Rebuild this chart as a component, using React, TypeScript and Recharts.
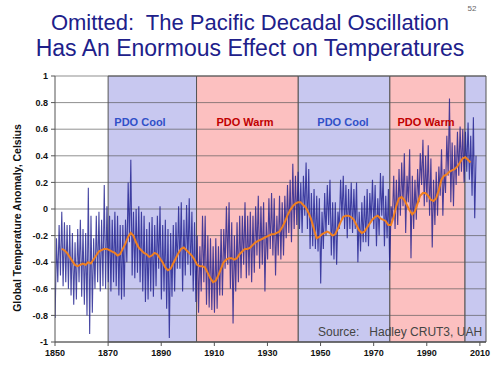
import React from 'react';
import { ComposedChart, Line, XAxis, YAxis, ReferenceArea, ReferenceLine } from 'recharts';

// Envelope of the monthly anomaly (HadCRUT3 / UAH), per year, 1850..2008
const FIRST_YEAR = 1850;
const monthlyLow = [
  -0.82, -0.55, -0.50, -0.58, -0.55, -0.60, -0.65, -0.72, -0.68, -0.55,
  -0.66, -0.72, -0.80, -0.94, -0.78, -0.60, -0.55, -0.62, -0.58, -0.60,
  -0.55, -0.62, -0.55, -0.58, -0.65, -0.68, -0.66, -0.40, -0.25, -0.50,
  -0.52, -0.48, -0.55, -0.62, -0.70, -0.68, -0.62, -0.66, -0.58, -0.45,
  -0.68, -0.62, -0.75, -0.97, -0.66, -0.62, -0.45, -0.45, -0.62, -0.50,
  -0.42, -0.50, -0.62, -0.70, -0.78, -0.62, -0.55, -0.72, -0.74, -0.76,
  -0.78, -0.75, -0.65, -0.65, -0.45, -0.42, -0.60, -0.86, -0.62, -0.55,
  -0.52, -0.42, -0.52, -0.50, -0.55, -0.48, -0.35, -0.45, -0.42, -0.62,
  -0.38, -0.30, -0.35, -0.50, -0.35, -0.38, -0.35, -0.22, -0.18, -0.25,
  -0.15, -0.12, -0.15, -0.18, -0.05, -0.15, -0.30, -0.28, -0.30, -0.32,
  -0.56, -0.30, -0.20, -0.12, -0.35, -0.38, -0.42, -0.15, -0.08, -0.15,
  -0.22, -0.15, -0.18, -0.15, -0.40, -0.32, -0.25, -0.25, -0.28, -0.10,
  -0.15, -0.28, -0.20, -0.05, -0.28, -0.22, -0.46, -0.08, -0.15, -0.12,
  -0.05, 0.02, -0.18, 0.05, -0.37, -0.15, -0.08, 0.05, 0.18, 0.02,
  0.05, -0.05, -0.29, -0.12, -0.05, 0.10, -0.05, 0.12, 0.25, 0.05,
  0.02, 0.18, 0.25, 0.28, 0.20, 0.28, 0.22, 0.10, -0.07,
];
const monthlyHigh = [
  -0.22, -0.12, -0.02, -0.10, -0.12, -0.12, -0.18, -0.25, -0.15, -0.08,
  -0.15, -0.18, 0.16, -0.05, -0.22, -0.05, -0.02, -0.08, 0.18, 0.02,
  -0.05, -0.08, -0.02, -0.05, -0.12, -0.12, -0.08, 0.20, 0.37, -0.02,
  0.00, 0.02, -0.02, -0.05, -0.15, -0.10, -0.06, -0.12, -0.05, 0.02,
  -0.12, -0.08, -0.15, -0.18, -0.12, -0.10, 0.02, 0.05, -0.08, 0.03,
  0.08, -0.02, -0.10, -0.20, -0.28, -0.05, -0.05, -0.20, -0.22, -0.28,
  -0.22, -0.28, -0.15, -0.15, 0.02, 0.05, -0.10, -0.20, -0.10, -0.05,
  -0.05, 0.05, -0.05, -0.02, -0.05, 0.02, 0.10, 0.02, 0.05, -0.10,
  0.08, 0.12, 0.08, -0.05, 0.10, 0.05, 0.10, 0.18, 0.22, 0.34,
  0.25, 0.28, 0.20, 0.25, 0.35, 0.30, 0.12, 0.15, 0.10, 0.08,
  -0.02, 0.12, 0.18, 0.22, 0.05, 0.05, -0.02, 0.22, 0.25, 0.18,
  0.15, 0.20, 0.15, 0.20, -0.02, 0.05, 0.10, 0.15, 0.12, 0.22,
  0.18, 0.08, 0.27, 0.25, 0.10, 0.15, 0.02, 0.25, 0.22, 0.30,
  0.35, 0.42, 0.25, 0.45, 0.25, 0.22, 0.30, 0.42, 0.52, 0.40,
  0.48, 0.38, 0.22, 0.28, 0.32, 0.45, 0.30, 0.55, 0.83, 0.50,
  0.48, 0.58, 0.62, 0.60, 0.58, 0.65, 0.55, 0.69, 0.40,
];

// Smoothed curve (orange), 1852..2006
const SMOOTH_FIRST_YEAR = 1852;
const smoothed = [
  -0.30, -0.31, -0.33, -0.36, -0.39, -0.42, -0.43, -0.42, -0.41, -0.42,
  -0.40, -0.41, -0.38, -0.35, -0.32, -0.31, -0.30, -0.30, -0.31, -0.32,
  -0.33, -0.35, -0.34, -0.30, -0.26, -0.21, -0.18, -0.20, -0.25, -0.29,
  -0.31, -0.33, -0.34, -0.36, -0.35, -0.33, -0.34, -0.37, -0.40, -0.44,
  -0.46, -0.45, -0.41, -0.37, -0.33, -0.30, -0.29, -0.31, -0.33, -0.35,
  -0.38, -0.42, -0.43, -0.43, -0.44, -0.48, -0.52, -0.55, -0.54, -0.50,
  -0.45, -0.40, -0.38, -0.37, -0.37, -0.38, -0.37, -0.34, -0.32, -0.30,
  -0.30, -0.29, -0.27, -0.25, -0.24, -0.23, -0.22, -0.21, -0.20, -0.19,
  -0.19, -0.18, -0.17, -0.14, -0.10, -0.05, -0.01, 0.02, 0.04, 0.05,
  0.05, 0.03, 0.01, -0.03, -0.08, -0.15, -0.22, -0.21, -0.19, -0.18,
  -0.17, -0.18, -0.20, -0.19, -0.15, -0.10, -0.06, -0.05, -0.05, -0.06,
  -0.08, -0.12, -0.16, -0.18, -0.17, -0.14, -0.11, -0.08, -0.06, -0.05,
  -0.07, -0.08, -0.09, -0.12, -0.12, -0.06, 0.02, 0.08, 0.09, 0.07,
  0.03, -0.01, -0.04, -0.02, 0.04, 0.10, 0.12, 0.12, 0.10, 0.07,
  0.06, 0.08, 0.14, 0.22, 0.25, 0.26, 0.28, 0.29, 0.30, 0.32,
  0.35, 0.38, 0.39, 0.37, 0.35,
];

const xTicks = [1850, 1870, 1890, 1910, 1930, 1950, 1970, 1990, 2010];
const yTicks = [-1, -0.8, -0.6, -0.4, -0.2, 0, 0.2, 0.4, 0.6, 0.8, 1];

const phaseLabels = ['', 'PDO Cool', 'PDO Warm', 'PDO Cool', 'PDO Warm', ''];
const phaseStarts = [1850, 1870, 1903.3, 1941.6, 1976.1, 2004.4];
const phaseEnds = [1870, 1903.3, 1941.6, 1976.1, 2004.4, 2012.3];
const phaseKinds = ['none', 'cool', 'warm', 'cool', 'warm', 'cool'];

const COOL_FILL = '#c8c8f0';
const WARM_FILL = '#fcc0c0';
const FONT = '"Liberation Sans", Arial, sans-serif';

const monthlyData = monthlyLow.flatMap((lo, i) => [
  { year: FIRST_YEAR + i + 0.05, anomaly: lo },
  { year: FIRST_YEAR + i + 0.55, anomaly: monthlyHigh[i] },
]);
const smoothData = smoothed.map((v, i) => ({ year: SMOOTH_FIRST_YEAR + i + 0.5, smooth: v }));

const labelPos = [0, 140, 245, 343, 426, 0];

export default function App() {
  return (
    <div style={{ position: 'absolute', left: 0, top: 0, width: 500, height: 375, background: '#fff' }}>
      <ComposedChart width={500} height={375} margin={{ top: 76, right: 14, bottom: 0, left: 0 }}>
        <XAxis
          type="number"
          dataKey="year"
          domain={[1850, 2012.3]}
          ticks={xTicks}
          interval={0}
          allowDataOverflow
          height={33}
          tickSize={4}
          tickMargin={4}
          axisLine={{ stroke: '#555' }}
          tickLine={{ stroke: '#555' }}
          tick={{ fontSize: 9, fontWeight: 'bold', fill: '#111', fontFamily: FONT }}
        />
        <YAxis
          type="number"
          domain={[-1, 1]}
          ticks={yTicks}
          interval={0}
          width={55}
          tickSize={4}
          tickMargin={3}
          axisLine={{ stroke: '#555' }}
          tickLine={{ stroke: '#555' }}
          tickFormatter={(v: number) => String(Number(v.toFixed(1)))}
          tick={{ fontSize: 9, fontWeight: 'bold', fill: '#111', fontFamily: FONT }}
        />
        {phaseKinds.map((k, i) =>
          k === 'none' ? null : (
            <ReferenceArea
              key={'a' + i}
              x1={phaseStarts[i]}
              x2={phaseEnds[i]}
              y1={-1}
              y2={1}
              fill={k === 'cool' ? COOL_FILL : WARM_FILL}
              fillOpacity={1}
              stroke="#555"
              strokeWidth={1}
              ifOverflow="visible"
            />
          )
        )}
        {yTicks.map((t) => (
          <ReferenceLine key={'g' + t} y={t} stroke="#555" strokeOpacity={0.65} strokeWidth={1} />
        ))}
        <Line
          data={monthlyData}
          dataKey="anomaly"
          type="linear"
          stroke="#1a1a8c"
          strokeWidth={1.1}
          strokeOpacity={0.8}
          dot={false}
          activeDot={false}
          isAnimationActive={false}
        />
        <Line
          data={smoothData}
          dataKey="smooth"
          type="linear"
          stroke="#f08020"
          strokeWidth={2}
          dot={false}
          activeDot={false}
          isAnimationActive={false}
        />
      </ComposedChart>
      <svg
        width={500}
        height={375}
        style={{ position: 'absolute', left: 0, top: 0, pointerEvents: 'none' }}
      >
        <text x={472} y={11} fontSize={8} fill="#666" fontFamily={FONT} textAnchor="middle">52</text>
        <text x={250} y={30} fontSize={22} fill="#20208a" fontFamily={FONT} textAnchor="middle" style={{ whiteSpace: 'pre' }}>
          {'Omitted:  The Pacific Decadal Oscillation'}
        </text>
        <text x={250} y={56} fontSize={23} fill="#20208a" fontFamily={FONT} textAnchor="middle">
          Has An Enormous Effect on Temperatures
        </text>
        <text
          x={0}
          y={0}
          transform="translate(21,218) rotate(-90)"
          fontSize={10.5}
          fontWeight="bold"
          fill="#111"
          fontFamily={FONT}
          textAnchor="middle"
        >
          Global Temperature Anomaly, Celsius
        </text>
        {phaseLabels.map((l, i) =>
          l ? (
            <text
              key={'l' + i}
              x={labelPos[i]}
              y={126}
              fontSize={11}
              fontWeight="bold"
              fill={phaseKinds[i] === 'cool' ? '#3050c8' : '#c00000'}
              fontFamily={FONT}
              textAnchor="middle"
            >
              {l}
            </text>
          ) : null
        )}
        <text x={318} y={336} fontSize={12} fill="#444" fontFamily={FONT} style={{ whiteSpace: 'pre' }}>
          {'Source:   Hadley CRUT3, UAH'}
        </text>
      </svg>
    </div>
  );
}
